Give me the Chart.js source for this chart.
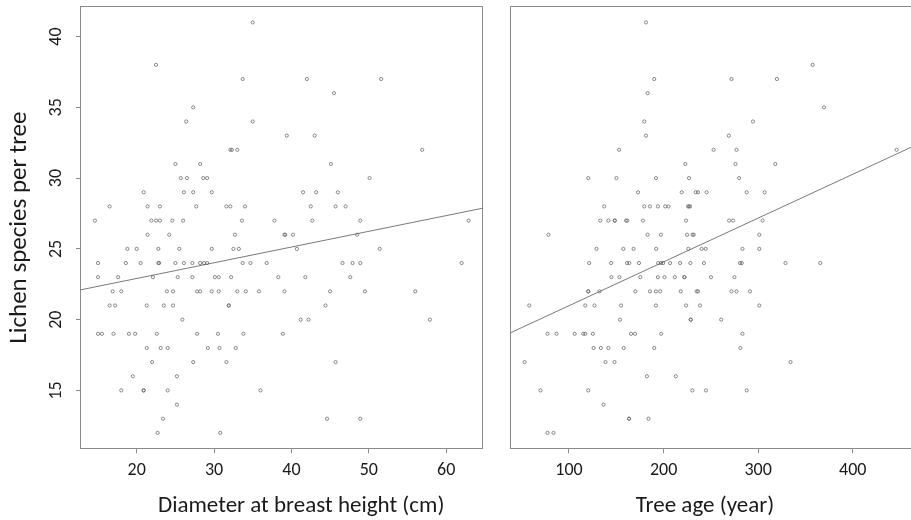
<!DOCTYPE html>
<html><head><meta charset="utf-8">
<script src="https://cdn.jsdelivr.net/npm/chart.js@4"></script>
<style>
html,body{margin:0;padding:0;background:#fff;overflow:hidden;width:911px;height:520px;position:relative}
#left{position:absolute;left:0;top:0;width:495px;height:520px}
#right{position:absolute;left:495px;top:0;width:445px;height:520px}
</style></head><body>
<div id="left"><canvas id="c1"></canvas></div>
<div id="right"><canvas id="c2"></canvas></div>
<script>
// ---- Data: lichen species per tree vs diameter (cm) ----
const dbhX = [
 35.0,
 22.5,
 33.7, 42.0, 51.6,
 45.5,
 27.3,
 26.4, 35.0,
 39.4, 43.0,
 32.1, 32.3, 33.0, 56.9,
 25.0, 28.2, 45.1,
 25.7, 26.5, 28.6, 29.1, 50.1,
 20.9, 26.1, 27.3, 29.7, 41.5, 43.2, 46.0,
 16.5, 21.4, 23.0, 27.7, 31.6, 32.1, 34.0, 42.5, 45.7, 47.0,
 14.6, 21.9, 22.5, 23.0, 24.6, 26.0, 33.6, 37.8, 42.7, 48.9, 62.9,
 21.4, 24.2, 32.7, 39.1, 39.2, 40.2, 48.5,
 18.8, 20.0, 22.8, 25.5, 29.7, 32.5, 33.2, 40.7, 51.4,
 15.0, 18.6, 20.5, 22.8, 22.9, 25.0, 26.1, 27.2, 28.2, 28.7, 29.1, 33.7, 34.7, 36.8, 46.6, 47.9, 48.9, 62.0,
 15.0, 17.6, 22.1, 25.3, 27.2, 30.1, 30.6, 32.2, 38.3, 41.8, 47.6,
 16.9, 18.0, 23.9, 24.7, 27.8, 28.2, 29.7, 30.6, 33.0, 34.1, 35.8, 39.1, 45.0, 49.5, 56.0,
 16.5, 17.2, 21.3, 23.5, 24.7, 31.9, 31.9, 44.4,
 25.9, 41.2, 42.2, 57.9,
 15.0, 15.5, 17.0, 19.0, 19.8, 22.6, 27.8, 30.5, 33.8, 38.9,
 21.3, 23.1, 24.0, 29.2, 30.7, 32.8,
 22.0, 27.3, 31.6, 45.7,
 19.5, 25.2,
 18.0, 20.9, 20.9, 24.0, 36.0,
 25.2,
 23.4, 44.6, 48.9,
 22.7, 30.8
];
const dbhSpecies = [
 41,
 38,
 37, 37, 37,
 36,
 35,
 34, 34,
 33, 33,
 32, 32, 32, 32,
 31, 31, 31,
 30, 30, 30, 30, 30,
 29, 29, 29, 29, 29, 29, 29,
 28, 28, 28, 28, 28, 28, 28, 28, 28, 28,
 27, 27, 27, 27, 27, 27, 27, 27, 27, 27, 27,
 26, 26, 26, 26, 26, 26, 26,
 25, 25, 25, 25, 25, 25, 25, 25, 25,
 24, 24, 24, 24, 24, 24, 24, 24, 24, 24, 24, 24, 24, 24, 24, 24, 24, 24,
 23, 23, 23, 23, 23, 23, 23, 23, 23, 23, 23,
 22, 22, 22, 22, 22, 22, 22, 22, 22, 22, 22, 22, 22, 22, 22,
 21, 21, 21, 21, 21, 21, 21, 21,
 20, 20, 20, 20,
 19, 19, 19, 19, 19, 19, 19, 19, 19, 19,
 18, 18, 18, 18, 18, 18,
 17, 17, 17, 17,
 16, 16,
 15, 15, 15, 15, 15,
 14,
 13, 13, 13,
 12, 12
];
// ---- Data: lichen species per tree vs tree age (year) ----
const ageX = [
 181.4,
 357.6,
 190.1, 271.8, 319.8,
 183.1,
 369.6,
 179.6, 294.5,
 181.4, 269.0,
 153.0, 252.9, 277.1, 446.4,
 223.0, 276.0, 318.1,
 120.4, 150.2, 191.9, 226.9, 279.9,
 173.0, 219.2, 234.0, 236.4, 245.5, 287.9, 306.8,
 137.2, 179.6, 185.6, 194.0, 201.7, 205.2, 225.8, 226.9, 228.0,
 133.0, 141.7, 148.4, 148.4, 160.4, 161.7, 178.2, 223.8, 269.3, 273.5, 304.7,
 78.3, 183.1, 197.2, 224.8, 230.6, 231.9, 301.2,
 129.1, 157.5, 168.3, 192.2, 226.2, 240.2, 244.5, 283.4, 301.2,
 121.4, 144.6, 161.4, 163.8, 174.0, 194.3, 197.2, 199.6, 206.9, 217.5, 228.3, 242.7, 280.9, 282.7, 328.9, 365.7,
 144.9, 153.3, 175.4, 194.0, 201.0, 211.9, 222.0, 222.0, 250.1, 274.9,
 120.4, 120.4, 132.3, 170.1, 185.6, 191.9, 196.4, 218.2, 235.0, 236.4, 271.8, 277.1, 291.4,
 58.0, 117.2, 127.0, 155.1, 191.9, 223.8, 238.5, 301.2,
 154.0, 228.7, 228.7, 260.9,
 77.3, 86.8, 106.0, 115.1, 117.2, 125.2, 165.6, 169.8, 197.5, 283.4,
 126.0, 133.7, 141.7, 157.8, 190.1, 281.2,
 53.1, 138.6, 148.1, 334.2,
 182.4, 212.9,
 69.9, 120.4, 230.4, 244.8, 287.9,
 136.5,
 163.5, 163.5, 184.1,
 77.3, 83.6
];
const ageSpecies = [
 41,
 38,
 37, 37, 37,
 36,
 35,
 34, 34,
 33, 33,
 32, 32, 32, 32,
 31, 31, 31,
 30, 30, 30, 30, 30,
 29, 29, 29, 29, 29, 29, 29,
 28, 28, 28, 28, 28, 28, 28, 28, 28,
 27, 27, 27, 27, 27, 27, 27, 27, 27, 27, 27,
 26, 26, 26, 26, 26, 26, 26,
 25, 25, 25, 25, 25, 25, 25, 25, 25,
 24, 24, 24, 24, 24, 24, 24, 24, 24, 24, 24, 24, 24, 24, 24, 24,
 23, 23, 23, 23, 23, 23, 23, 23, 23, 23,
 22, 22, 22, 22, 22, 22, 22, 22, 22, 22, 22, 22, 22,
 21, 21, 21, 21, 21, 21, 21, 21,
 20, 20, 20, 20,
 19, 19, 19, 19, 19, 19, 19, 19, 19, 19,
 18, 18, 18, 18, 18, 18,
 17, 17, 17, 17,
 16, 16,
 15, 15, 15, 15, 15,
 14,
 13, 13, 13,
 12, 12
];
// fitted regression lines [intercept, slope]
const fitDbh = [20.69, 0.111];
const fitAge = [17.89, 0.03095];
// tick labels
const dbhTicks = [20, 30, 40, 50, 60];
const ageTicks = [100, 200, 300, 400];
const speciesTicks = [15, 20, 25, 30, 35, 40];
// axis ranges
const dbhRange = [12.67, 64.8];
const ageRange = [37.96, 489.8];
const speciesRange = [10.84, 42.16];

const FONT = 'Carlito, Calibri, Lato, sans-serif';
const TXT = '#1a1a1a';
const AXC = '#8a8a8a';

const boxPlugin = {
  id: 'box',
  beforeDatasetsDraw(chart) {
    const {ctx, chartArea: a} = chart;
    ctx.save();
    ctx.strokeStyle = AXC;
    ctx.lineWidth = 1;
    const l = Math.round(a.left) + 0.5, t = Math.round(a.top) + 0.5;
    const r = Math.round(a.right) - 0.5, b = Math.round(a.bottom) - 0.5;
    ctx.strokeRect(l, t, r - l, b - t);
    ctx.restore();
  }
};
const xTitlePlugin = {
  id: 'xTitle',
  afterDraw(chart, args, opts) {
    const {ctx} = chart;
    ctx.save();
    ctx.font = opts.font;
    ctx.fillStyle = TXT;
    ctx.textAlign = 'center';
    ctx.textBaseline = 'alphabetic';
    ctx.fillText(opts.text, opts.cx, opts.y);
    ctx.restore();
  }
};

function setTicks(arr) { return s => { s.ticks = arr.map(v => ({value: v})); }; }
function lineData(fit, range) {
  return range.map(x => ({x: x, y: fit[0] + fit[1] * x}));
}
function pts(xs, ys) { return xs.map((x, i) => ({x: x, y: ys[i]})); }

function makeChart(id, xs, ys, fit, xRange, xTicks, showY, pad, titleOpts) {
  return new Chart(document.getElementById(id), {
    type: 'scatter',
    data: {
      datasets: [
        {data: pts(xs, ys), pointStyle: 'circle', pointRadius: 1.6, pointBorderWidth: 0.7,
         borderColor: '#5a5a5a', backgroundColor: 'rgba(0,0,0,0)', pointHoverRadius: 1.6},
        {type: 'line', data: lineData(fit, xRange), borderColor: '#7a7a7a', borderWidth: 1,
         pointRadius: 0, fill: false, tension: 0}
      ]
    },
    options: {
      responsive: true, maintainAspectRatio: false, animation: false, devicePixelRatio: 1,
      events: [],
      layout: {padding: pad},
      plugins: {legend: {display: false}, tooltip: {enabled: false}, xTitle: titleOpts},
      scales: {
        x: {
          type: 'linear', position: 'bottom', min: xRange[0], max: xRange[1],
          afterBuildTicks: setTicks(xTicks),
          afterFit: s => { s.height = 70.7; s.paddingLeft = 0; s.paddingRight = 0; },
          border: {display: false},
          grid: {drawOnChartArea: false, drawTicks: true, tickLength: 4, color: AXC},
          ticks: {font: {family: FONT, size: 18}, color: TXT, padding: 6, maxRotation: 0}
        },
        y: {
          type: 'linear', display: showY, min: speciesRange[0], max: speciesRange[1],
          afterBuildTicks: setTicks(speciesTicks),
          afterFit: s => { s.width = showY ? 80 : 0; s.paddingTop = 0; s.paddingBottom = 0; },
          border: {display: false},
          grid: {drawOnChartArea: false, drawTicks: true, tickLength: 4, color: AXC},
          ticks: {font: {family: FONT, size: 18}, color: TXT, padding: 10.5, minRotation: 90, maxRotation: 90, crossAlign: 'center'},
          title: {display: true, text: 'Lichen species per tree', color: TXT,
                  font: {family: FONT, size: 25}, padding: {top: 5, bottom: 0}}
        }
      }
    },
    plugins: [boxPlugin, xTitlePlugin]
  });
}

makeChart('c1', dbhX, dbhSpecies, fitDbh, dbhRange, dbhTicks, true,
  {top: 6, right: 11.7, left: 0, bottom: 0},
  {text: 'Diameter at breast height (cm)', cx: 301.2, y: 512, font: '23px ' + FONT});
makeChart('c2', ageX, ageSpecies, fitAge, ageRange, ageTicks, false,
  {top: 6, right: 0, left: 15.3, bottom: 0},
  {text: 'Tree age (year)', cx: 705 - 495, y: 512, font: '23px ' + FONT});
</script>
</body></html>
